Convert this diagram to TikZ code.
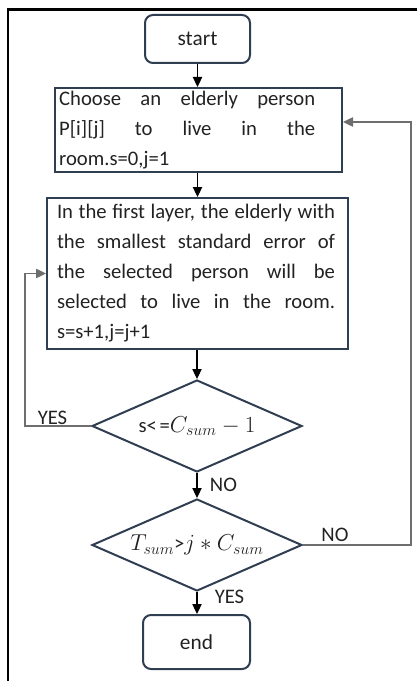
\documentclass[tikz,border=0pt]{standalone}
\usepackage{fontspec}
\setmainfont{Carlito}
\usetikzlibrary{arrows.meta,shapes.geometric}
\definecolor{boxc}{RGB}{48,62,82}
\definecolor{loopc}{RGB}{110,110,110}
\definecolor{txtc}{RGB}{34,34,34}
\newcommand{\bigmath}[1]{{\fontsize{17.5pt}{20pt}\selectfont$#1$}}
\begin{document}
\begin{tikzpicture}[x=0.75pt,y=-0.75pt,
  every node/.style={font=\fontsize{15.5pt}{22.5pt}\selectfont, text=txtc},
  term/.style={draw=boxc, line width=1.5pt, rounded corners=6pt, minimum width=#1, minimum height=37pt, inner sep=0pt},
  proc/.style={draw=boxc, line width=1.5pt, inner sep=0pt},
  decide/.style={draw=boxc, line width=1.5pt, diamond, inner sep=0pt, aspect=2.3, minimum width=157.5pt, minimum height=69pt},
  flow/.style={draw=black, line width=0.8pt, -{Triangle[length=7.5pt,width=7pt]}},
  back/.style={draw=loopc, line width=1pt, -{Triangle[length=7.5pt,width=7pt]}},
  lbl/.style={anchor=base, inner sep=0pt}
]
\useasboundingbox (0,0) rectangle (417,681);
% outer frame (left and top edges)
\draw[line width=1.6pt] (8,681) -- (8,9.5) -- (417,9.5);

\node[term=78.75pt, minimum height=36pt, font=\fontsize{16pt}{20pt}\selectfont] (start) at (197.5,39) {start};

\node[proc, minimum width=215.25pt, minimum height=63pt] (box1) at (198.5,130)
 {\parbox{209pt}{\fontsize{15.5pt}{22.5pt}\selectfont
  \makebox[192pt][s]{Choose an elderly person}\\
  \makebox[192pt][s]{P[i][j] to live in the}\\
  room.s=0,j=1}};

\node[proc, minimum width=225.75pt, minimum height=113.25pt] (box2) at (197.5,273.5)
 {\parbox{210.75pt}{\fontsize{15.5pt}{22.5pt}\selectfont
  \makebox[208.5pt][s]{In the first layer, the elderly with}\\
  \makebox[208.5pt][s]{the smallest standard error of}\\
  \makebox[208.5pt][s]{the selected person will be}\\
  \makebox[208.5pt][s]{selected to live in the room.}\\
  s=s+1,j=j+1}};

\node[decide] (d1) at (197,426) {s<\kern2pt=\bigmath{C_{sum}-1}};
\node[decide] (d2) at (197,545) {\bigmath{T_{sum}}>\bigmath{j\ast C_{sum}}};

\node[term=80.25pt, minimum height=40.5pt, font=\fontsize{16pt}{20pt}\selectfont] (end) at (196.5,642) {end};

\draw[flow] (start.south) -- (start.south |- box1.north);
\draw[flow] (box1.south -| start.south) -- (start.south |- box2.north);
\draw[flow] (box2.south -| d1.north) -- (d1.north);
\draw[flow] (d1.south) -- (d2.north);
\draw[flow] (d2.south) -- (end.north -| d2.south);

\coordinate (yl) at (25,273.5);
\coordinate (nr) at (411,122);
\draw[back] (d1.west) -| (yl) -- (box2.west);
\draw[back] (d2.east) -| (nr) -- (box1.east |- nr);

\node[lbl] (yes1) at (52.5,424) {YES};
\node[lbl] (no1) at (223.5,491) {NO};
\node[lbl] (no2) at (335,541) {NO};
\node[lbl] (yes2) at (229.5,603) {YES};
\end{tikzpicture}
\end{document}
